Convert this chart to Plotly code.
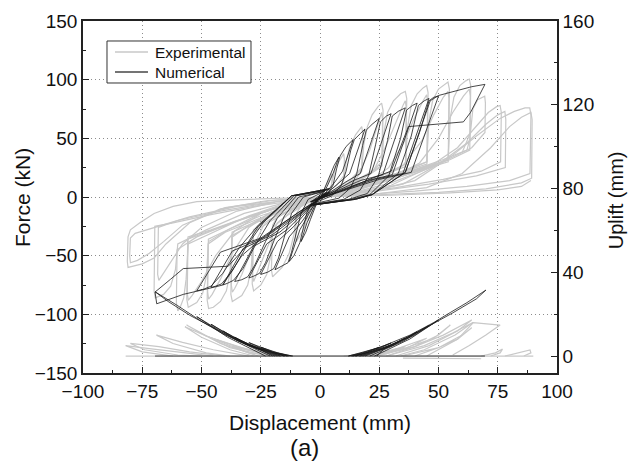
import plotly.graph_objects as go

# ---------------- Experimental force-displacement loops (mm, kN) ----------------
exp_pos_1 = [(0,0),(1.5,5),(3,11),(4.2,16),(5,20),(5.2,17),(4.8,9),(3,4),(1,1),(0,0)]
exp_pos_2 = [(0,0),(2.5,3),(4.5,8),(5.5,18),(6.5,25),(8.5,32),(10,37),(10.3,32),(10,18),(7,10),(3,4),(0,0)]
exp_pos_3 = [(0,0),(4,3),(8,8),(10,14),(11,30),(12.5,42),(15,53),(17.6,60),(18,55),(17.6,25),(13,15),(7,7),(2,2),(0,0)]
exp_pos_4 = [(0,0),(5,4),(10,9),(15,15),(17.6,22),(18.5,45),(20,60),(22,70),(24.5,77),(26,80),(26.6,74),(26.2,30),(22,22),(15,14),(8,7),(2,2),(0,0)]
exp_pos_4b = [(0,0),(6,5),(12,12),(17,22),(21,40),(24,58),(26,72),(26.4,66),(26.1,27),(20,19),(12,10),(4,3),(0,0)]
exp_pos_5 = [(0,0),(6,4),(12,10),(20,18),(26,26),(27,55),(28.5,72),(31,82),(34,88),(36,90),(36.6,84),(36.2,28),(30,22),(20,14),(10,7),(3,2),(0,0)]
exp_pos_5b = [(0,0),(8,5),(16,12),(23,24),(28,44),(32,64),(35,78),(36,82),(36.4,76),(36.1,26),(28,20),(18,12),(8,5),(0,0)]
exp_pos_6 = [(0,0),(8,4),(18,11),(28,20),(36,28),(37,60),(38.5,78),(41,88),(43.5,93),(45,95),(45.6,89),(45.2,30),(38,24),(26,16),(14,8),(4,2),(0,0)]
exp_pos_6b = [(0,0),(10,5),(20,12),(29,25),(35,45),(40,68),(43.5,82),(45,87),(45.4,81),(45.1,28),(36,22),(24,14),(10,5),(0,0)]
exp_pos_7 = [(0,0),(10,4),(22,12),(35,22),(45,30),(46,65),(47.5,82),(50,92),(52.5,96),(54,98),(54.6,92),(54.2,32),(46,26),(32,17),(16,8),(4,2),(0,0)]
exp_pos_7b = [(0,0),(12,5),(24,13),(35,27),(43,48),(48,70),(52,85),(54,90),(54.4,84),(54.1,30),(44,24),(30,15),(14,6),(0,0)]
exp_pos_8 = [(0,0),(12,4),(26,12),(42,24),(54,32),(55,68),(56.5,85),(59,95),(61.5,99),(63,100.5),(63.6,95),(63.3,50),(62,40),(52,32),(38,22),(20,10),(5,2),(0,0)]
exp_pos_8b = [(0,0),(14,5),(28,14),(42,29),(50,50),(56,72),(60.5,86),(63,92),(63.4,86),(63.2,40),(55,32),(40,21),(20,9),(0,0)]
exp_pos_9 = [(0,0),(14,4),(30,12),(48,26),(60,38),(63.5,55),(64.5,75),(66.5,83),(69.5,86),(69.8,80),(69.6,55),(64,42),(52,30),(35,18),(18,8),(5,2),(0,0)]
exp_pos_10 = [(0,0),(15,4),(30,10),(45,24),(58,42),(66,60),(71,72),(74.5,77),(76,78),(76.5,72),(76.2,30),(68,22),(52,15),(32,8),(12,3),(0,0)]
exp_pos_11 = [(0,0),(18,4),(35,11),(50,28),(62,46),(70,62),(75,70),(78,73),(78.4,66),(78.2,25),(66,18),(46,11),(24,5),(0,0)]
exp_pos_12 = [(0,0),(20,4),(40,14),(55,34),(66,52),(76,67),(82,73),(86.5,76),(88.5,76),(89,70),(88.6,20),(80,14),(62,9),(40,5),(18,2),(0,0)]
exp_pos_13 = [(0,1),(25,3),(45,8),(60,20),(72,42),(80,60),(85,68),(89,72),(89.5,66),(89.3,16),(85,12),(70,7),(50,4),(25,2),(0,0)]
exp_pos_14 = [(0,0),(30,1.5),(55,3.5),(75,6),(85,9),(89,14)]

exp_neg_1 = [(0,0),(-1.5,-5),(-3,-11),(-4.2,-16),(-5,-20),(-5.2,-17),(-4.8,-9),(-3,-4),(-1,-1),(0,0)]
exp_neg_2 = [(0,0),(-2.5,-3),(-4.5,-8),(-5.5,-18),(-6.5,-26),(-8.5,-33),(-10,-38),(-10.3,-33),(-10,-18),(-7,-10),(-3,-4),(0,0)]
exp_neg_3 = [(0,0),(-4,-3),(-8,-8),(-10,-14),(-11,-32),(-13,-48),(-16,-60),(-20,-68),(-20.5,-62),(-20,-26),(-14,-16),(-7,-7),(-2,-2),(0,0)]
exp_neg_4 = [(0,0),(-6,-4),(-12,-10),(-18,-17),(-20,-24),(-21,-52),(-22.5,-66),(-25,-75),(-28,-80),(-28.6,-74),(-28.2,-30),(-22,-22),(-14,-13),(-6,-5),(0,0)]
exp_neg_4b = [(0,0),(-6,-5),(-12,-12),(-18,-22),(-22,-42),(-25.5,-60),(-28,-72),(-28.4,-66),(-28.1,-28),(-21,-19),(-12,-10),(-4,-3),(0,0)]
exp_neg_5 = [(0,0),(-8,-4),(-16,-11),(-24,-20),(-28,-28),(-29,-60),(-30.5,-75),(-33,-84),(-37,-89),(-37.6,-83),(-37.2,-33),(-30,-25),(-20,-15),(-9,-6),(0,0)]
exp_neg_5b = [(0,0),(-8,-5),(-16,-12),(-24,-25),(-29,-46),(-33,-66),(-36,-78),(-37,-81),(-37.4,-75),(-37.1,-30),(-28,-22),(-17,-12),(-7,-4),(0,0)]
exp_neg_6 = [(0,0),(-10,-5),(-20,-13),(-30,-24),(-37,-34),(-38,-65),(-39.5,-80),(-42,-89),(-45,-94),(-47,-95),(-47.6,-88),(-47.2,-40),(-40,-30),(-28,-20),(-14,-9),(-4,-2),(0,0)]
exp_neg_6b = [(0,0),(-10,-5),(-21,-13),(-30,-26),(-37,-48),(-42,-70),(-45.5,-83),(-47,-87),(-47.4,-81),(-47.1,-36),(-38,-27),(-25,-16),(-10,-6),(0,0)]
exp_neg_7 = [(0,0),(-12,-5),(-25,-14),(-38,-27),(-47,-38),(-48,-68),(-49.5,-82),(-52,-90),(-55.6,-94),(-56.2,-87),(-55.8,-36),(-48,-30),(-34,-20),(-18,-9),(-5,-2),(0,0)]
exp_neg_7b = [(0,0),(-12,-5),(-25,-14),(-36,-29),(-44,-50),(-50,-72),(-54,-84),(-55.6,-88),(-56,-82),(-55.7,-34),(-46,-28),(-32,-18),(-15,-7),(0,0)]
exp_neg_8 = [(0,0),(-14,-5),(-30,-16),(-45,-30),(-55.6,-40),(-56.5,-70),(-57.5,-86),(-59,-94),(-60,-97),(-60.6,-90),(-60.3,-45),(-52,-34),(-36,-21),(-18,-9),(-4,-2),(0,0)]
exp_neg_9 = [(0,0),(-15,-5),(-32,-14),(-48,-28),(-60,-40),(-61,-62),(-63,-76),(-66,-83),(-69.5,-86),(-70,-80),(-69.7,-25),(-62,-22),(-46,-15),(-28,-8),(-10,-3),(0,0)]
exp_neg_10 = [(0,0),(-18,-4),(-35,-12),(-50,-26),(-58,-40),(-63,-55),(-66,-65),(-68,-71),(-68.5,-66),(-68.2,-26),(-60,-20),(-42,-12),(-22,-5),(0,0)]
exp_neg_11 = [(0,0),(-20,-3),(-40,-9),(-55,-22),(-65,-40),(-70,-52),(-75,-57),(-80,-59),(-81,-60),(-81.3,-55),(-81,-34),(-80,-28),(-76,-22),(-70,-14),(-62,-8),(-52,-4),(-30,-2),(0,0)]
exp_neg_12 = [(0,0),(-22,-3),(-42,-10),(-58,-24),(-66,-38),(-72,-48),(-77,-54),(-80,-56),(-80.3,-50),(-80,-35),(-78,-31),(-70,-26),(-55,-17),(-35,-8),(-15,-3),(0,0)]

# ---------------- Numerical force-displacement loops (mm, kN) ----------------
num_pos_1 = [(0,-2),(2,8),(4,18),(6,27),(8,34),(5.5,20),(3,9),(1,2),(0,-2)]
num_pos_2 = [(0,-3),(3,2),(5.5,10),(7,24),(8.5,35),(11,43),(14,49),(9.5,22),(6,12),(3,5),(-1,-2)]
num_pos_3 = [(-1,-4),(5,1),(9,10),(11,22),(13,40),(14.5,49),(17,54),(19,58),(12.5,20),(8,12),(4,5),(-1,-2)]
num_pos_4 = [(-1,-5),(8,-1),(13,8),(15.5,20),(18,44),(19.5,57),(22,62),(25,67),(17,20),(11,13),(5,5),(-2,-2)]
num_pos_5 = [(-2,-6),(10,-2),(17,6),(20.5,18),(23.5,45),(25.5,64),(28,69),(30,71),(21.5,20),(14,14),(6,5),(-2,-3)]
num_pos_6 = [(-2,-6),(12,-2),(20,3),(24.5,17),(28.5,48),(30.5,69),(33,73),(36,76),(26.5,19),(17,14),(8,6),(-3,-3)]
num_pos_7 = [(-3,-7),(13,-2),(21,2),(29,18),(34,50),(36.5,74),(39,78),(41,80),(30.5,19),(20,14),(9,6),(-3,-4)]
num_pos_8 = [(-3,-7),(14,-2),(22,2),(33,20),(38.5,52),(41.5,78),(44,82),(46,84),(35,20),(23,15),(10,6),(-4,-4)]
num_pos_9 = [(-4,-7),(15,-2),(22,2),(36,21),(42,55),(46,82),(48,85),(50,86),(38.5,21),(25,15),(11,6),(-4,-4)]
num_pos_10 = [(-4,-7),(15,-2),(22,2),(36,21),(42,56),(46.5,82),(50,86.5),(58,91),(64,94),(69.6,96),(67,86),(63.5,72),(60.5,64),(50,62),(37.3,60),(30,22),(22,16),(10,6),(-4,-4)]

num_neg_1 = [(0,2),(-2,-8),(-4,-19),(-6,-30),(-8,-38),(-5.5,-22),(-3,-10),(-1,-2),(0,2)]
num_neg_2 = [(1,3),(-3,-3),(-5.5,-13),(-7,-27),(-8.5,-39),(-11,-50),(-13,-55),(-8.5,-28),(-5,-15),(-2,-5),(1,2)]
num_neg_3 = [(1,4),(-5,-2),(-8,-14),(-10,-30),(-12,-47),(-13.5,-56),(-16,-59),(-19,-62),(-13,-34),(-8,-22),(-3,-8),(1,2)]
num_neg_4 = [(2,5),(-7,0),(-12,-14),(-14.5,-30),(-17.5,-52),(-19.5,-61),(-22,-64),(-25,-66),(-18,-38),(-11,-25),(-4,-9),(2,3)]
num_neg_5 = [(2,5),(-9,0),(-15,-16),(-19,-35),(-23,-56),(-25.5,-65),(-28,-67.5),(-30,-69),(-22.5,-40),(-14,-28),(-5,-10),(2,3)]
num_neg_6 = [(3,6),(-10,1),(-18,-18),(-23,-38),(-27.5,-58),(-30.5,-68),(-33,-70.5),(-36,-72),(-28,-42),(-17,-30),(-6,-11),(3,4)]
num_neg_7 = [(3,6),(-11,1),(-21,-20),(-27,-40),(-32.5,-61),(-36.5,-71),(-39,-73.5),(-41,-75),(-32.5,-44),(-20,-32),(-7,-12),(3,4)]
num_neg_8 = [(4,7),(-12,1),(-24,-22),(-31,-42),(-37,-63),(-41.5,-74),(-44,-76),(-46,-77),(-37,-46),(-23,-34),(-8,-13),(4,4)]
num_neg_9 = [(4,7),(-12,1),(-26,-24),(-34,-43),(-41,-65),(-46,-76),(-49,-78.5),(-52,-80),(-42,-47),(-25,-35),(-9,-13),(4,4)]
num_neg_10 = [(4,7),(-12,1),(-26,-25),(-32,-44),(-38.7,-59),(-48,-60),(-57.7,-61),(-63,-70),(-69.6,-81),(-68.9,-91),(-63,-87),(-57.7,-83),(-46,-77.5),(-41,-75),(-33,-50),(-25,-36),(-9,-13),(4,4)]

# ---------------- Experimental uplift (mm, mm) ----------------
exp_up_pos_1 = [(10,0),(25,1.5),(36,4.5),(28,1),(15,0)]
exp_up_pos_2 = [(15,0),(30,2.5),(45,8.5),(36,3.5),(22,0)]
exp_up_pos_3 = [(20,0),(35,3.5),(48,8.5),(55,14.8),(50,10),(40,4.5),(28,0)]
exp_up_pos_4 = [(24,0),(40,4.5),(52,10),(64,17.2),(58,12),(46,5),(32,0)]
exp_up_pos_5 = [(28,0),(44,5),(56,11),(64.5,16),(57,10),(44,3),(34,0)]
exp_up_pos_6 = [(35,0),(50,4),(58,8),(64,13.5),(60,10),(50,4),(40,0)]
exp_up_pos_7 = [(45,0),(58,8),(64.7,16),(70,15.5),(76,14.8),(70,10),(63,5),(56,0.5)]
exp_up_pos_8 = [(68,0),(74,1.5),(77,3.3),(76,1.5),(72,0)]
exp_up_pos_9 = [(78,0),(84,1.5),(88.6,2.9),(89,1.5),(86,0)]
exp_up_base = [(-82,0),(90,0)]
exp_up_low = [(35,-1),(52,-1.3),(68,-1.3)]
exp_up_neg_1 = [(-12,0),(-25,1.5),(-37,4.5),(-30,1.5),(-18,0)]
exp_up_neg_2 = [(-15,0),(-30,3),(-47,9),(-38,4),(-22,0)]
exp_up_neg_3 = [(-18,0),(-35,4.5),(-48,9.5),(-56.3,14.8),(-52,12),(-42,6),(-26,0)]
exp_up_neg_4 = [(-20,0),(-38,5),(-50,10.5),(-57,14),(-50,9),(-38,3),(-28,0)]
exp_up_neg_5 = [(-30,0),(-45,3),(-58,6.5),(-69,10),(-62,6),(-48,1.5),(-38,0)]
exp_up_neg_6 = [(-40,0),(-55,2),(-68,4.5),(-80,6),(-74,3),(-60,0.5),(-50,0)]
exp_up_neg_7 = [(-45,0),(-60,1.8),(-72,3.5),(-82,5),(-75,2),(-62,0)]

# ---------------- Numerical uplift (mm, mm) ----------------
num_up_pos_1 = [(12,0),(18,1.6),(25,4.2),(19,1.3),(13.5,0)]
num_up_pos_2 = [(13,0),(20,2),(30,6.2),(22,2.2),(15,0)]
num_up_pos_3 = [(14,0),(22,2.4),(30,5.2),(36,8.6),(27,3.6),(17,0)]
num_up_pos_4 = [(15,0),(25,3.2),(34,7.3),(41,11.6),(31,5.2),(19,0)]
num_up_pos_5 = [(16.5,0),(27,3.8),(37,8.8),(46,14.6),(35,7),(21,0)]
num_up_pos_6 = [(18,0),(29,4.3),(40,10),(50,17.2),(38,8.2),(23,0)]
num_up_pos_7 = [(12,0),(25,4),(38,10),(48,16),(55,20.8),(62,25.5),(70,31.5),(66,27.3),(56,20.6),(48,15.5),(38,9.4),(27,3.5),(24,0)]
num_up_neg_1 = [(-12,0),(-18,1.6),(-25,4.2),(-19,1.3),(-13.5,0)]
num_up_neg_2 = [(-13,0),(-20,2.1),(-30,6.4),(-22,2.3),(-15,0)]
num_up_neg_3 = [(-14,0),(-22,2.5),(-30,5.5),(-36,9),(-27,3.8),(-17,0)]
num_up_neg_4 = [(-15,0),(-25,3.4),(-34,7.6),(-41,12),(-31,5.5),(-19,0)]
num_up_neg_5 = [(-16.5,0),(-27,4),(-37,9.2),(-46,15.2),(-35,7.4),(-21,0)]
num_up_neg_6 = [(-18,0),(-29,4.6),(-40,10.5),(-52,18.8),(-39,9),(-23,0)]
num_up_neg_7 = [(-11.4,0),(-20,1.8),(-30,5),(-40.8,10.5),(-50.6,17),(-60,24),(-69.6,30.7),(-64,26),(-55,19.5),(-45,13.5),(-35,7.5),(-25,3),(-20,0)]
num_up_base = [(-69.6,0),(69.6,0)]

# tick values and legend labels
x_ticks = [-100, -75, -50, -25, 0, 25, 50, 75, 100]
force_ticks = [-150, -100, -50, 0, 50, 100, 150]
uplift_ticks = [0, 40, 80, 120, 160]
series_names = ["Experimental", "Numerical"]


def chain(loops):
    xs, ys = [], []
    for lp in loops:
        for x, y in lp:
            xs.append(x)
            ys.append(y)
        xs.append(None)
        ys.append(None)
    return xs, ys


exp_force = [exp_pos_1, exp_pos_2, exp_pos_3, exp_pos_4, exp_pos_4b, exp_pos_5, exp_pos_5b,
             exp_pos_6, exp_pos_6b, exp_pos_7, exp_pos_7b, exp_pos_8, exp_pos_8b, exp_pos_9,
             exp_pos_10, exp_pos_11, exp_pos_12, exp_pos_13, exp_pos_14,
             exp_neg_1, exp_neg_2, exp_neg_3, exp_neg_4, exp_neg_4b, exp_neg_5, exp_neg_5b,
             exp_neg_6, exp_neg_6b, exp_neg_7, exp_neg_7b, exp_neg_8, exp_neg_9, exp_neg_10,
             exp_neg_11, exp_neg_12]
num_force = [num_pos_1, num_pos_2, num_pos_3, num_pos_4, num_pos_5, num_pos_6, num_pos_7,
             num_pos_8, num_pos_9, num_pos_10,
             num_neg_1, num_neg_2, num_neg_3, num_neg_4, num_neg_5, num_neg_6, num_neg_7,
             num_neg_8, num_neg_9, num_neg_10]
exp_uplift = [exp_up_base, exp_up_low, exp_up_pos_1, exp_up_pos_2, exp_up_pos_3, exp_up_pos_4,
              exp_up_pos_5, exp_up_pos_6, exp_up_pos_7, exp_up_pos_8, exp_up_pos_9,
              exp_up_neg_1, exp_up_neg_2, exp_up_neg_3, exp_up_neg_4, exp_up_neg_5,
              exp_up_neg_6, exp_up_neg_7]
num_uplift = [num_up_base, num_up_pos_1, num_up_pos_2, num_up_pos_3, num_up_pos_4, num_up_pos_5,
              num_up_pos_6, num_up_pos_7, num_up_neg_1, num_up_neg_2, num_up_neg_3,
              num_up_neg_4, num_up_neg_5, num_up_neg_6, num_up_neg_7]

GRAY = "rgb(200,200,200)"
BLACK = "rgb(25,25,25)"
FONT = "Liberation Sans, Arial, sans-serif"

fig = go.Figure()
ex, ey = chain(exp_force)
fig.add_trace(go.Scatter(x=ex, y=ey, mode="lines", name=series_names[0], showlegend=False,
                         line=dict(color=GRAY, width=1.2), yaxis="y"))
nx, ny = chain(num_force)
fig.add_trace(go.Scatter(x=nx, y=ny, mode="lines", name=series_names[1], showlegend=False,
                         line=dict(color=BLACK, width=0.8), yaxis="y"))
eux, euy = chain(exp_uplift)
fig.add_trace(go.Scatter(x=eux, y=euy, mode="lines", showlegend=False,
                         line=dict(color=GRAY, width=1.2), yaxis="y2"))
nux, nuy = chain(num_uplift)
fig.add_trace(go.Scatter(x=nux, y=nuy, mode="lines", showlegend=False,
                         line=dict(color=BLACK, width=0.8), yaxis="y2"))

axis_common = dict(
    ticks="inside", ticklen=6, tickwidth=1.2, tickcolor="#222",
    showline=True, linewidth=1.5, linecolor="#222",
    tickfont=dict(size=19, color="#111", family=FONT),
    zeroline=False,
)

# legend drawn as a framed box (paper coordinates)
LEG_X0, LEG_X1, LEG_Y0, LEG_Y1 = 0.0506, 0.3544, 0.8239, 0.9432
LEG_ROWS = [0.9119, 0.8551]
LEG_LINE_X = (0.0675, 0.1371)
LEG_TEXT_X = 0.1477
shapes = [dict(type="rect", xref="paper", yref="paper", x0=LEG_X0, x1=LEG_X1, y0=LEG_Y0, y1=LEG_Y1,
               line=dict(color="#333", width=1), fillcolor="white", layer="above")]
legend_colors = [GRAY, "rgb(70,70,70)"]
annotations = []
for name, row, col in zip(series_names, LEG_ROWS, legend_colors):
    shapes.append(dict(type="line", xref="paper", yref="paper", x0=LEG_LINE_X[0], x1=LEG_LINE_X[1],
                       y0=row, y1=row, line=dict(color=col, width=1.3), layer="above"))
    annotations.append(dict(text=name, x=LEG_TEXT_X, y=row, xref="paper", yref="paper",
                            showarrow=False, xanchor="left", yanchor="middle",
                            font=dict(size=15.5, family=FONT, color="#111")))

annotations += [
    dict(text="Displacement (mm)", x=0.5, y=-0.142, xref="paper", yref="paper",
         showarrow=False, xanchor="center", yanchor="middle",
         font=dict(size=21, family=FONT, color="#111")),
    dict(text="Force (kN)", x=-0.1287, y=0.5, xref="paper", yref="paper",
         showarrow=False, xanchor="center", yanchor="middle", textangle=-90,
         font=dict(size=21, family=FONT, color="#111")),
    dict(text="Uplift (mm)", x=1.124, y=0.49, xref="paper", yref="paper",
         showarrow=False, xanchor="center", yanchor="middle", textangle=-90,
         font=dict(size=20, family=FONT, color="#111")),
    dict(text="(a)", x=0.468, y=-0.213, xref="paper", yref="paper",
         showarrow=False, xanchor="center", yanchor="middle",
         font=dict(size=24, family=FONT, color="#111")),
]

fig.update_layout(
    width=628, height=467,
    margin=dict(l=83, r=71, t=21, b=94),
    paper_bgcolor="white", plot_bgcolor="white",
    font=dict(family=FONT, color="#111"),
    xaxis=dict(range=[-100, 100], tickvals=x_ticks, mirror=True,
               showgrid=True, gridcolor="#8c8c8c", griddash="1px,3px", gridwidth=1,
               minor=dict(dtick=12.5, tick0=0, ticks="inside", ticklen=3.5,
                          tickcolor="#222", showgrid=False),
               **axis_common),
    yaxis=dict(range=[-150, 150], tickvals=force_ticks, mirror=True,
               showgrid=True, gridcolor="#8c8c8c", griddash="1px,3px", gridwidth=1,
               minor=dict(dtick=25, tick0=0, ticks="inside", ticklen=3.5,
                          tickcolor="#222", showgrid=False),
               **axis_common),
    yaxis2=dict(range=[-8.1, 160], tickvals=uplift_ticks, overlaying="y", side="right",
                showgrid=False,
                minor=dict(dtick=20, tick0=0, ticks="inside", ticklen=3.5,
                           tickcolor="#222", showgrid=False),
                **axis_common),
    showlegend=False,
    shapes=shapes,
    annotations=annotations,
)

fig.write_html("out.html", config={"displayModeBar": False},
               post_script="document.body.style.margin='0';")
